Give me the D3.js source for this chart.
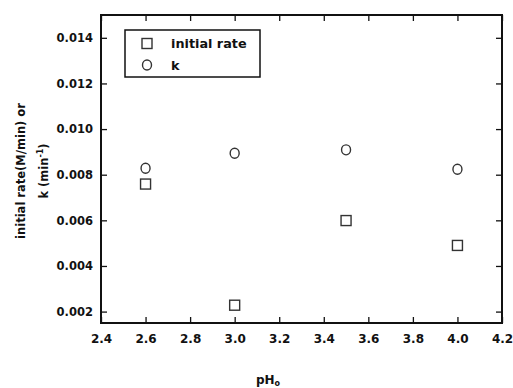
<!DOCTYPE html>
<html>
<head>
<meta charset="utf-8">
<script src="https://cdn.jsdelivr.net/npm/d3@7"></script>
<style>
  html, body { margin: 0; padding: 0; background: #fff; }
  svg { display: block; }
  text { font-family: "DejaVu Sans", Verdana, sans-serif; font-weight: bold; fill: #111; }
</style>
</head>
<body>
<svg id="chart" width="513" height="388"></svg>
<script>
// Initial pH values and the measured quantities at each
const phValues = [2.6, 3.0, 3.5, 4.0];
const initialRate = [0.00759, 0.00228, 0.00599, 0.00490];
const kValues = [0.00828, 0.00894, 0.00909, 0.00824];
const xTicks = [2.4, 2.6, 2.8, 3.0, 3.2, 3.4, 3.6, 3.8, 4.0, 4.2];
const yTicks = [0.002, 0.004, 0.006, 0.008, 0.010, 0.012, 0.014];
const legendLabels = ["initial rate", "k"];

const svg = d3.select("#chart");
const margin = { left: 101, right: 11, top: 15, bottom: 65 };
const W = 513, H = 388;
const ink = "#111";

const x = d3.scaleLinear().domain([2.4, 4.2]).range([margin.left, W - margin.right]);
const y = d3.scaleLinear().domain([0.0015, 0.015]).range([H - margin.bottom, margin.top]);

const tickLen = 6;

function styleAxis(g, hideText, fontSize) {
  g.select(".domain").remove();
  g.selectAll(".tick line").attr("stroke", ink).attr("stroke-width", 1.3);
  g.selectAll(".tick text").attr("fill", ink).style("font-size", fontSize);
  if (hideText) g.selectAll(".tick text").remove();
}

// bottom axis with labels, ticks point inward
svg.append("g")
  .attr("transform", `translate(0,${y.range()[0]})`)
  .call(d3.axisBottom(x).tickValues(xTicks).tickFormat(d3.format(".1f"))
    .tickSizeInner(-tickLen).tickSizeOuter(0).tickPadding(11))
  .call(g => styleAxis(g, false, "12px"));

// top mirror ticks
svg.append("g")
  .attr("transform", `translate(0,${y.range()[1]})`)
  .call(d3.axisTop(x).tickValues(xTicks).tickSizeInner(-tickLen).tickSizeOuter(0))
  .call(g => styleAxis(g, true));

// left axis with labels
svg.append("g")
  .attr("transform", `translate(${x.range()[0]},0)`)
  .call(d3.axisLeft(y).tickValues(yTicks).tickFormat(d3.format(".3f"))
    .tickSizeInner(-tickLen).tickSizeOuter(0).tickPadding(8))
  .call(g => styleAxis(g, false, "11.5px"));

// right mirror ticks
svg.append("g")
  .attr("transform", `translate(${x.range()[1]},0)`)
  .call(d3.axisRight(y).tickValues(yTicks).tickSizeInner(-tickLen).tickSizeOuter(0))
  .call(g => styleAxis(g, true));

// plot frame
svg.append("rect")
  .attr("x", x.range()[0]).attr("y", y.range()[1])
  .attr("width", x.range()[1] - x.range()[0])
  .attr("height", y.range()[0] - y.range()[1])
  .attr("fill", "none").attr("stroke", ink).attr("stroke-width", 2);

const markerStroke = "#333";

function drawSquare(g, cx, cy) {
  g.append("rect")
    .attr("x", cx - 5).attr("y", cy - 5).attr("width", 10).attr("height", 10)
    .attr("fill", "none").attr("stroke", markerStroke).attr("stroke-width", 1.4);
}
function drawCircle(g, cx, cy) {
  g.append("ellipse")
    .attr("cx", cx).attr("cy", cy).attr("rx", 4.5).attr("ry", 5)
    .attr("fill", "none").attr("stroke", markerStroke).attr("stroke-width", 1.4);
}

const marks = svg.append("g");
phValues.forEach((p, i) => {
  drawSquare(marks, x(p), y(initialRate[i]));
  drawCircle(marks, x(p), y(kValues[i]));
});

// legend
const lg = svg.append("g");
lg.append("rect")
  .attr("x", 125).attr("y", 30).attr("width", 135).attr("height", 47)
  .attr("fill", "#fff").attr("stroke", ink).attr("stroke-width", 1.5);
drawSquare(lg, 147, 43.5);
drawCircle(lg, 147, 65);
lg.append("text").attr("x", 171).attr("y", 48).style("font-size", "12.8px").text(legendLabels[0]);
lg.append("text").attr("x", 171).attr("y", 70).style("font-size", "12.8px").text(legendLabels[1]);

// y-axis title (two lines)
const yt = svg.append("g").attr("transform", "translate(0,171) rotate(-90)");
yt.append("text").attr("x", 0).attr("y", 25).attr("text-anchor", "middle")
  .style("font-size", "11.5px").text("initial rate(M/min) or");
const line2 = yt.append("text").attr("x", 0).attr("y", 48).attr("text-anchor", "middle")
  .style("font-size", "11.5px");
line2.append("tspan").text("k (min");
line2.append("tspan").attr("dy", -5).style("font-size", "8px").text("-1");
line2.append("tspan").attr("dy", 5).text(")");

// x-axis title
const xt = svg.append("text").attr("x", 268).attr("y", 384).attr("text-anchor", "middle")
  .style("font-size", "12px");
xt.append("tspan").text("pH");
xt.append("tspan").attr("dy", 2).style("font-size", "8px").text("o");
</script>
</body>
</html>
